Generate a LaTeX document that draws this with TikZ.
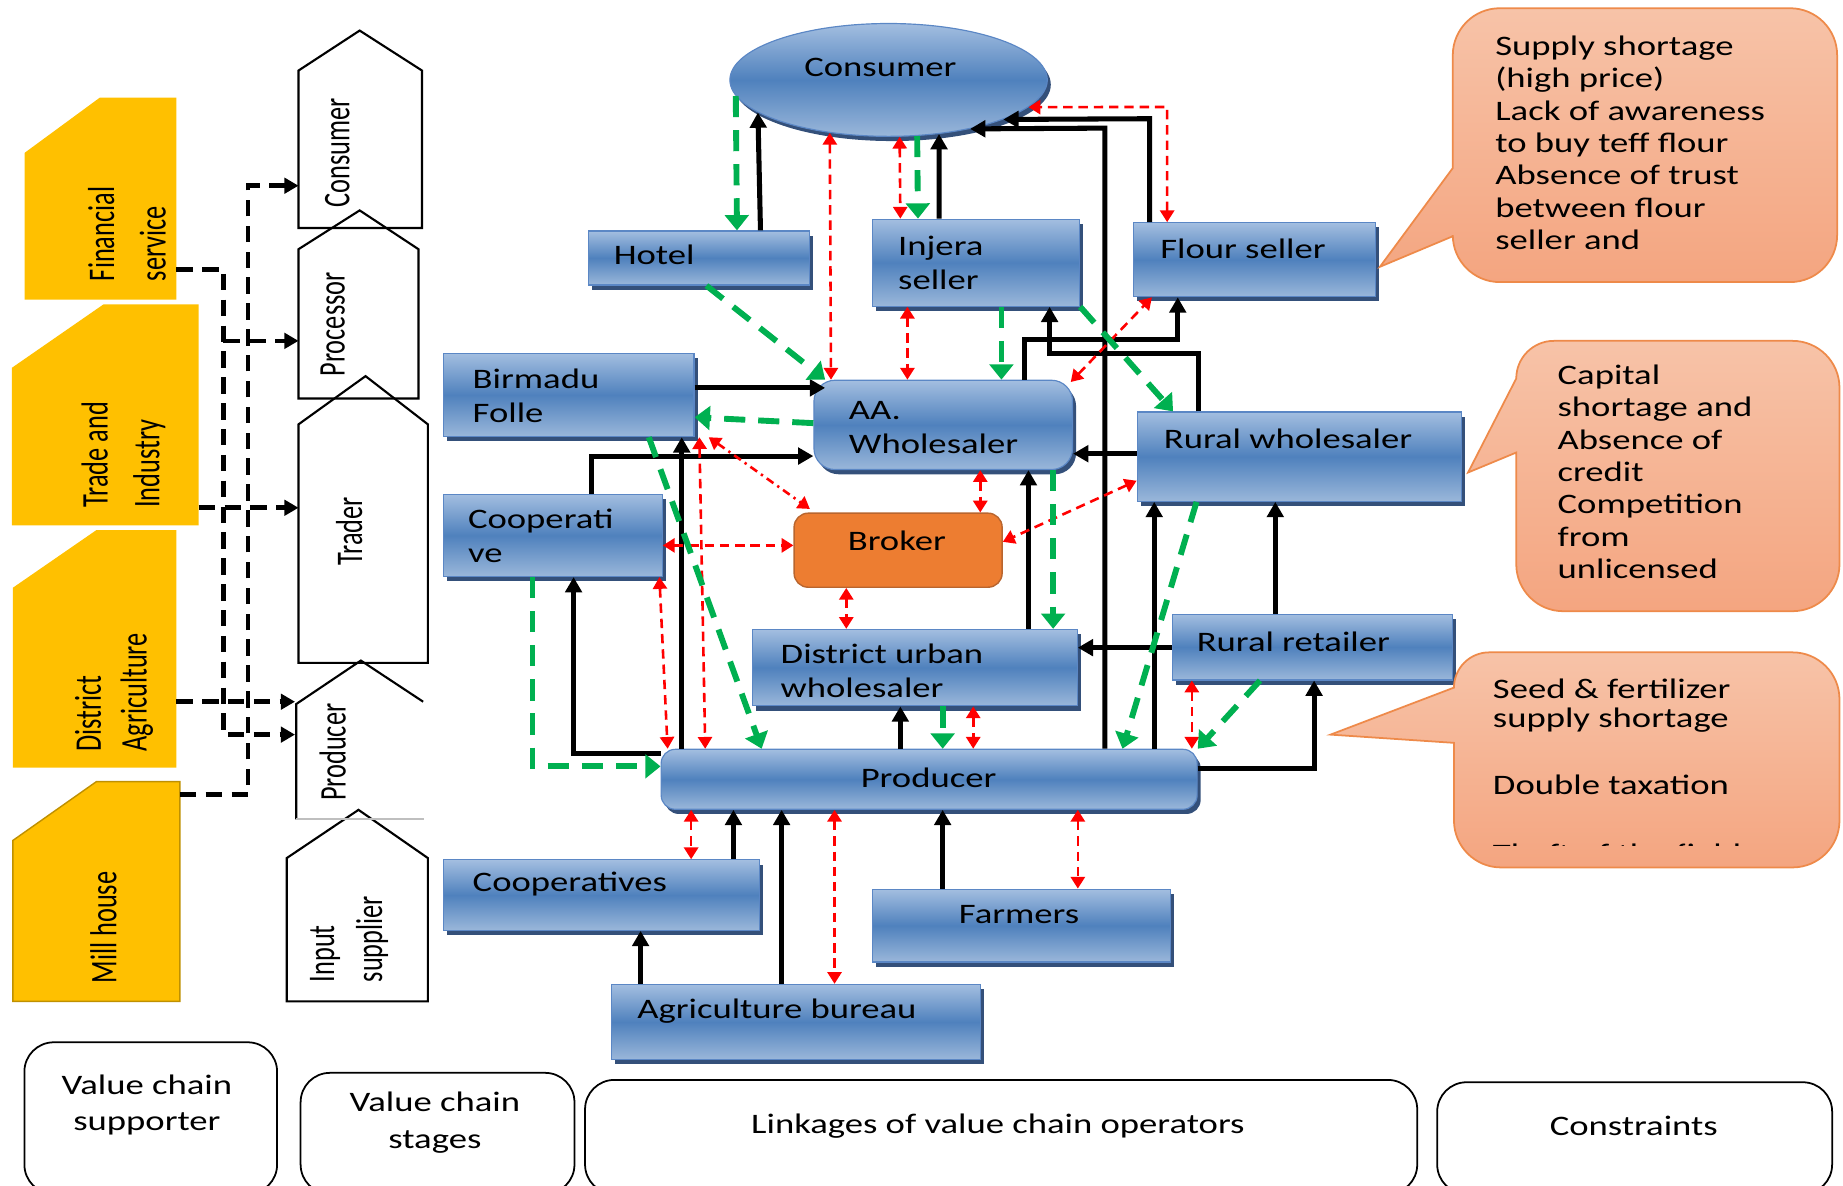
\documentclass[tikz,border=0pt]{standalone}
\usepackage{fontspec}
\setmainfont{Carlito}
\newfontfamily\wfont[FakeStretch=1.3]{Carlito}
\newfontfamily\nfont[FakeStretch=0.7]{Carlito}
\usetikzlibrary{shapes.geometric,arrows.meta,shadows}
\definecolor{bluetop}{HTML}{A3BEE0}
\definecolor{bluemid}{HTML}{4F81BD}
\definecolor{bluebot}{HTML}{9AB7DA}
\definecolor{blueline}{HTML}{5B87C5}
\definecolor{blueshadow}{HTML}{34507A}
\definecolor{gold}{HTML}{FFC000}
\definecolor{goldline}{HTML}{BF9000}
\definecolor{brokerfill}{HTML}{ED7D31}
\definecolor{brokerline}{HTML}{B9652E}
\definecolor{calltop}{HTML}{F7C3A8}
\definecolor{callbot}{HTML}{F4A580}
\definecolor{callline}{HTML}{EE8A4A}
\definecolor{gline}{HTML}{00B050}
\definecolor{rline}{HTML}{FF0000}
\begin{document}
\begin{tikzpicture}[x=1pt,y=-1pt,
  bluebox/.style={draw=blueline, line width=1pt, top color=bluetop, bottom color=bluebot, middle color=bluemid,
    drop shadow={shadow xshift=3pt,shadow yshift=-4pt,fill=blueshadow,opacity=1}, anchor=north west, inner sep=0pt},
  btxt/.style={font=\wfont\fontsize{24}{29}\selectfont, align=left, inner sep=0pt, anchor=west, text=black},
  ctxt/.style={font=\wfont\fontsize{24}{27.5}\selectfont, align=left, inner sep=0pt, anchor=west, text=black},
  ltxt/.style={font=\wfont\fontsize{24}{31}\selectfont, align=center, inner sep=0pt, text=black},
  rtxt/.style={font=\nfont\fontsize{32}{44}\selectfont, rotate=90, align=left, inner sep=0pt, text=black},
  blk/.style={draw=black, line width=4.3pt, -{Triangle[length=13pt,width=14pt]}},
  rarr/.style={draw=rline, line width=2.2pt, dash pattern=on 8pt off 5pt, {Triangle[length=10pt,width=12pt]}-{Triangle[length=10pt,width=12pt]}},
  rdot/.style={rarr, dash pattern=on 7pt off 4pt on 2pt off 4pt},
  garr/.style={draw=gline, line width=5pt, dash pattern=on 18pt off 11pt, -{Triangle[length=13pt,width=20pt]}},
  ldash/.style={draw=black, line width=4pt, dash pattern=on 14pt off 8pt, -{Triangle[length=12pt,width=13pt]}},
  stagef/.style={draw=black, line width=1.8pt, line join=miter},
  callout/.style={draw=callline, line width=1.5pt, top color=calltop, bottom color=callbot},
  legend/.style={draw=black, line width=1.5pt, rounded corners=25pt, anchor=north west, inner sep=0pt}
]
\path[use as bounding box] (0,0) rectangle (1568,1009);
\clip (0,0) rectangle (1568,1009);

% ---------- value chain supporters ----------
\fill[gold] (21,130) -- (85,83) -- (150,83) -- (150,255) -- (21,255) -- cycle;
\fill[gold] (10,313) -- (88,259) -- (169,259) -- (169,447) -- (10,447) -- cycle;
\fill[gold] (11,500) -- (82,451) -- (150,451) -- (150,653) -- (11,653) -- cycle;
\filldraw[fill=gold, draw=goldline, line width=1.2pt] (11,715) -- (82,665) -- (153,665) -- (153,852) -- (11,852) -- cycle;
\node[rtxt] (fin) at (108,199) {Financial\\service};
\node[rtxt] (trade) at (105,387) {Trade and\\Industry};
\node[rtxt, font=\nfont\fontsize{32}{39}\selectfont] (dist) at (97,589) {District\\Agriculture};
\node[rtxt] (mill) at (88,789) {Mill house};

% ---------- value chain stages ----------
\draw[stagef] (254,194) -- (254,60) -- (306,26) -- (359,60) -- (359,194) -- cycle;
\draw[stagef] (254,339) -- (254,212) -- (306,179) -- (356,212) -- (356,339) -- cycle;
\draw[stagef] (254,564) -- (254,361) -- (311,320) -- (364,361) -- (364,564) -- cycle;
\draw[stagef] (244,852) -- (244,730) -- (305,689) -- (364,730) -- (364,852) -- cycle;
\draw[stagef] (252,697) -- (252,599) -- (307,562) -- (360,597);
\draw[draw=black!25, line width=1.6pt] (252,697) -- (361,697);
\node[rtxt] (s-cons) at (287,130) {Consumer};
\node[rtxt] (s-proc) at (283,276) {Processor};
\node[rtxt] (s-trad) at (297,452) {Trader};
\node[rtxt] (s-prod) at (283,640) {Producer};
\node[rtxt, font=\nfont\fontsize{32}{41}\selectfont] (s-inp) at (297,799) {Input\\supplier};

\coordinate (finR) at (150,229);
\coordinate (tradeR) at (169,432);
\coordinate (distR) at (150,597);
\coordinate (millR) at (153,676);
\coordinate (jA) at (190,290);
\coordinate (stCons) at (254,158);
\coordinate (stProc) at (254,290);
\coordinate (stTrad) at (254,432);
\coordinate (stProd1) at (251,597);
\coordinate (stProd2) at (251,625);
\draw[ldash] (finR) -| (190,625) -- (stProd2);
\draw[ldash] (millR) -| (211,158) -- (stCons);
\draw[ldash] (tradeR) -- (stTrad);
\draw[ldash] (distR) -- (stProd1);
\draw[ldash] (jA) -- (stProc);

% ---------- operators ----------
\node[bluebox, ellipse, anchor=center, minimum width=270pt, minimum height=96pt] (consumer) at (756,68) {};
\node[bluebox, minimum width=188pt, minimum height=46pt] (hotel) at (500,196) {};
\node[bluebox, minimum width=176pt, minimum height=74pt] (injera) at (742,186) {};
\node[bluebox, minimum width=206pt, minimum height=63pt] (flour) at (964,189) {};
\node[bluebox, minimum width=213pt, minimum height=71pt] (birmadu) at (377,300) {};
\node[bluebox, rounded corners=18pt, minimum width=220pt, minimum height=76pt] (aaw) at (692,323) {};
\node[bluebox, minimum width=276pt, minimum height=76pt] (rurw) at (967,350) {};
\node[bluebox, minimum width=186pt, minimum height=70pt] (coop) at (377,420) {};
\node[draw=brokerline, line width=1.2pt, fill=brokerfill, rounded corners=12pt, anchor=north west, inner sep=0pt, minimum width=177pt, minimum height=63pt] (broker) at (675,436) {};
\node[bluebox, minimum width=276pt, minimum height=65pt] (duw) at (640,535) {};
\node[bluebox, minimum width=238pt, minimum height=56pt] (rurr) at (997,522) {};
\node[bluebox, rounded corners=12pt, minimum width=456pt, minimum height=51pt] (prod) at (562,637) {};
\node[bluebox, minimum width=269pt, minimum height=60pt] (coops) at (377,731) {};
\node[bluebox, minimum width=253pt, minimum height=62pt] (farm) at (742,756) {};
\node[bluebox, minimum width=314pt, minimum height=64pt] (agri) at (520,837) {};

\node[btxt, anchor=center] (t-cons) at (749,57) {Consumer};
\node[btxt] (t-hotel) at (522,217) {Hotel};
\node[btxt] (t-injera) at (764,224) {Injera\\seller};
\node[btxt] (t-flour) at (987,212) {Flour seller};
\node[btxt] (t-birm) at (402,337) {Birmadu\\Folle};
\node[btxt] (t-aaw) at (722,364) {AA.\\Wholesaler};
\node[btxt] (t-rurw) at (990,373) {Rural wholesaler};
\node[btxt] (t-coop) at (398,456) {Cooperati\\ve};
\node[btxt, anchor=center] (t-broker) at (763,460) {Broker};
\node[btxt] (t-duw) at (664,571) {District urban\\wholesaler};
\node[btxt] (t-rurr) at (1018,546) {Rural retailer};
\node[btxt, anchor=center] (t-prod) at (790,662) {Producer};
\node[btxt] (t-coops) at (402,752) {Cooperatives};
\node[btxt, anchor=center] (t-farm) at (867,778) {Farmers};
\node[btxt] (t-agri) at (542,860) {Agriculture bureau};

% ---------- black: product flow ----------
\draw[blk] (647,0 |- hotel.north) -- (consumer.194.6);
\draw[blk] (799,0 |- injera.north) -- (consumer.313.4);
\draw[blk] (978,0 |- flour.north) -- (978,101) -- (consumer.341.8);
\draw[blk] (940,0 |- prod.north) -- (940,109) -- (consumer.329.7);
\draw[blk] (birmadu.east |- 0,330) -- (702,330);
\draw[blk] (503,0 |- coop.north) -- (503,388) -- (aaw.west |- 0,388);
\draw[blk] (580,0 |- prod.north) -- (580,0 |- birmadu.south);
\draw[blk] (prod.west |- 0,641) -- (488,641) -- (488,0 |- coop.south);
\draw[blk] (875,0 |- duw.north) -- (875,0 |- aaw.south);
\draw[blk] (766,0 |- prod.north) -- (766,0 |- duw.south);
\draw[blk] (rurw.west |- 0,386) -- (aaw.east |- 0,386);
\draw[blk] (rurr.west |- 0,551) -- (duw.east |- 0,551);
\draw[blk] (982,0 |- prod.north) -- (982,0 |- rurw.south);
\draw[blk] (1085,0 |- rurr.north) -- (1085,0 |- rurw.south);
\draw[blk] (prod.east |- 0,654) -- (1118,654) -- (1118,0 |- rurr.south);
\draw[blk] (1020,0 |- rurw.north) -- (1020,301) -- (893,301) -- (893,0 |- injera.south);
\draw[blk] (872,0 |- aaw.north) -- (872,289) -- (1002,289) -- (1002,0 |- flour.south);
\draw[blk] (624,0 |- coops.north) -- (624,0 |- prod.south);
\draw[blk] (665,0 |- agri.north) -- (665,0 |- prod.south);
\draw[blk] (545,0 |- agri.north) -- (545,0 |- coops.south);
\draw[blk] (802,0 |- farm.north) -- (802,0 |- prod.south);

% ---------- red: information flow ----------
\draw[rarr] (consumer.222.4) -- (707,0 |- aaw.north);
\draw[rarr] (consumer.281.8) -- (766,0 |- injera.north);
\draw[rarr] (772,0 |- injera.south) -- (772,0 |- aaw.north);
\draw[rarr] (993,0 |- flour.north) -- (993,91) -- (consumer.349.2);
\draw[rarr] (595,0 |- birmadu.south) -- (600,0 |- prod.north);
\draw[rdot] (603,0 |- birmadu.south) -- ([xshift=14pt,yshift=3pt]broker.north west);
\draw[rarr] (coop.east |- 0,464) -- (broker.west |- 0,464);
\draw[rarr] (561,0 |- coop.south) -- (568,0 |- prod.north);
\draw[rarr] (834,0 |- aaw.south) -- (834,0 |- broker.north);
\draw[rarr] (720,0 |- broker.south) -- (720,0 |- duw.north);
\draw[rarr] (828,0 |- duw.south) -- (828,0 |- prod.north);
\draw[rarr] (rurw.west |- 0,409) -- (broker.east |- 0,461);
\draw[rarr] ([xshift=-2pt,yshift=-2pt]aaw.north east) -- (980,0 |- flour.south);
\draw[rarr] (1014,0 |- rurr.south) -- (1014,0 |- prod.north);
\draw[rarr] (588,0 |- prod.south) -- (588,0 |- coops.north);
\draw[rarr] (710,0 |- prod.south) -- (710,0 |- agri.north);
\draw[rarr] (917,0 |- prod.south) -- (917,0 |- farm.north);

% ---------- green: money flow ----------
\draw[garr] (consumer.186.3) -- (627,0 |- hotel.north);
\draw[garr] (consumer.297.9) -- (781,0 |- injera.north);
\draw[garr] (601,0 |- hotel.south) -- (702,0 |- aaw.north);
\draw[garr] (aaw.west |- 0,360) -- (birmadu.east |- 0,355);
\draw[garr] (852,0 |- injera.south) -- (852,0 |- aaw.north);
\draw[garr] (injera.south east) -- (998,0 |- rurw.north);
\draw[garr] (896,0 |- aaw.south) -- (896,0 |- duw.north);
\draw[garr] (552,0 |- birmadu.south) -- (648,0 |- prod.north);
\draw[garr] (453,0 |- coop.south) -- (453,652) -- (prod.west |- 0,652);
\draw[garr] (802,0 |- duw.south) -- (802,0 |- prod.north);
\draw[garr] (1018,0 |- rurw.south) -- (955,0 |- prod.north);
\draw[garr] (1072,0 |- rurr.south) -- (prod.north east);

% ---------- constraints (callouts) ----------
\path[callout] (1236,201) -- (1174,227) -- (1236,143) -- (1236,47) arc (180:90:40pt) -- (1523,7) arc (90:0:40pt)
  -- (1563,200) arc (0:-90:40pt) -- (1276,240) arc (-90:-180:40pt) -- cycle;
\path[callout] (1290,385) -- (1249,402) -- (1290,322) arc (180:90:32pt) -- (1525,290) arc (90:0:40pt)
  -- (1565,480) arc (0:-90:40pt) -- (1330,520) arc (-90:-180:40pt) -- cycle;
\path[callout] (1237,632) -- (1132,625) -- (1237,585) arc (180:90:30pt) -- (1525,555) arc (90:0:40pt)
  -- (1565,698) arc (0:-90:40pt) -- (1277,738) arc (-90:-180:40pt) -- cycle;

\node[ctxt] (c1) at (1272,121.5) {Supply shortage\\(high price)\\Lack of awareness\\to buy teff flour\\Absence of trust\\between flour\\seller and};
\node[ctxt] (c2) at (1325,401.5) {Capital\\shortage and\\Absence of\\credit\\Competition\\from\\unlicensed};
\node[ctxt] (c3a) at (1270,586) {Seed \& fertilizer};
\node[ctxt] (c3b) at (1270,613) {supply shortage};
\node[ctxt] (c3c) at (1270,668) {Double taxation};
\begin{scope}
\clip (1240,560) rectangle (1560,719);
\node[ctxt] (c3d) at (1270,726) {Theft of the field};
\end{scope}

% ---------- legend ----------
\node[legend, minimum width=215pt, minimum height=129pt] (lg1) at (20,886) {};
\node[legend, minimum width=233pt, minimum height=103pt] (lg2) at (255,912) {};
\node[legend, minimum width=708pt, minimum height=97pt] (lg3) at (497,918) {};
\node[legend, minimum width=336pt, minimum height=95pt] (lg4) at (1222,920) {};
\node[ltxt] (l1) at (125,940) {Value chain\\supporter};
\node[ltxt] (l2) at (370,955) {Value chain\\stages};
\node[ltxt] (l3) at (849,958) {Linkages of value chain operators};
\node[ltxt] (l4) at (1390,958) {Constraints};
\end{tikzpicture}
\end{document}
